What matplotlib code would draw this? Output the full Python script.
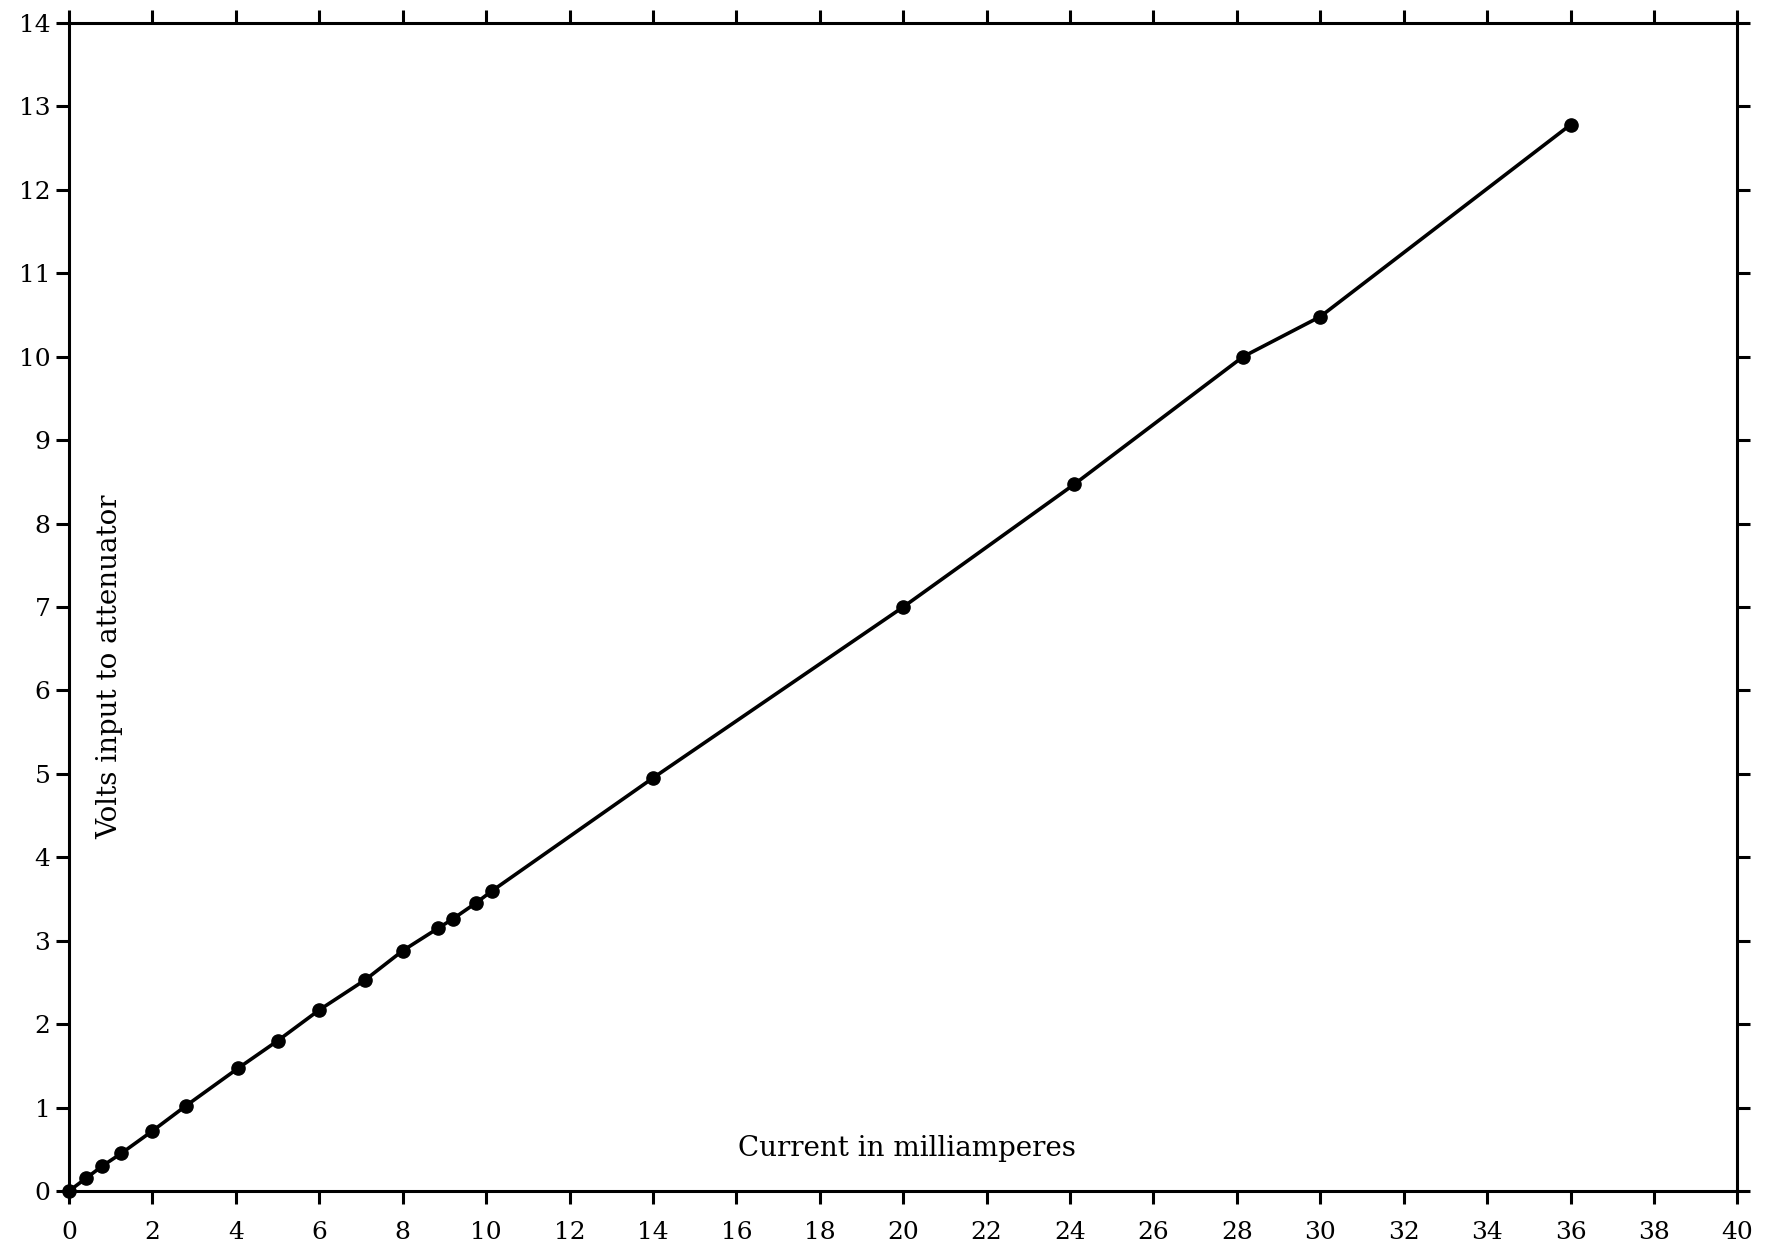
import matplotlib
matplotlib.use("Agg")
import matplotlib.pyplot as plt
import numpy as np

current_ma = [0, 0.4, 0.8, 1.25, 2.0, 2.8, 4.05, 5.0, 6.0, 7.1, 8.0, 8.85, 9.2, 9.75, 10.15,
              14.0, 20.0, 24.1, 28.15, 30.0, 36.0]
volts = [0, 0.15, 0.3, 0.45, 0.72, 1.02, 1.47, 1.8, 2.17, 2.53, 2.88, 3.15, 3.26, 3.45, 3.6,
         4.95, 7.0, 8.47, 10.0, 10.48, 12.78]
x_ticks = list(range(0, 41, 2))
y_ticks = list(range(0, 15))

plt.rcParams['font.family'] = ['DejaVu Serif']
fig = plt.figure(figsize=(17.71, 12.48), dpi=100)
ax = fig.add_axes([0.039, 0.0457, 0.942, 0.9359])

ax.plot(current_ma, volts, color='black', lw=2.6, marker='o', ms=9.5,
        markerfacecolor='black', markeredgecolor='black', clip_on=False, zorder=3)

ax.set_xlim(0, 40)
ax.set_ylim(0, 14)
ax.set_xticks(x_ticks)
ax.set_yticks(y_ticks)
ax.set_xticklabels([str(v) for v in x_ticks])
ax.set_yticklabels([str(v) for v in y_ticks])

for s in ax.spines.values():
    s.set_linewidth(2.2)
    s.set_color('black')

ax.tick_params(axis='x', which='both', direction='out', length=9.5, width=2.2,
               top=True, bottom=True, labelbottom=True, labeltop=False,
               labelsize=18, pad=12)
ax.tick_params(axis='y', which='both', direction='out', length=9.5, width=2.2,
               left=True, right=True, labelleft=True, labelright=False,
               labelsize=18, pad=4)

ax.text(0.502, 0.036, 'Current in milliamperes', transform=ax.transAxes,
        ha='center', va='center', fontsize=20)
ax.text(0.0245, 0.449, 'Volts input to attenuator', transform=ax.transAxes,
        ha='center', va='center', rotation=90, fontsize=20)

fig.savefig('out.png', dpi=100)
